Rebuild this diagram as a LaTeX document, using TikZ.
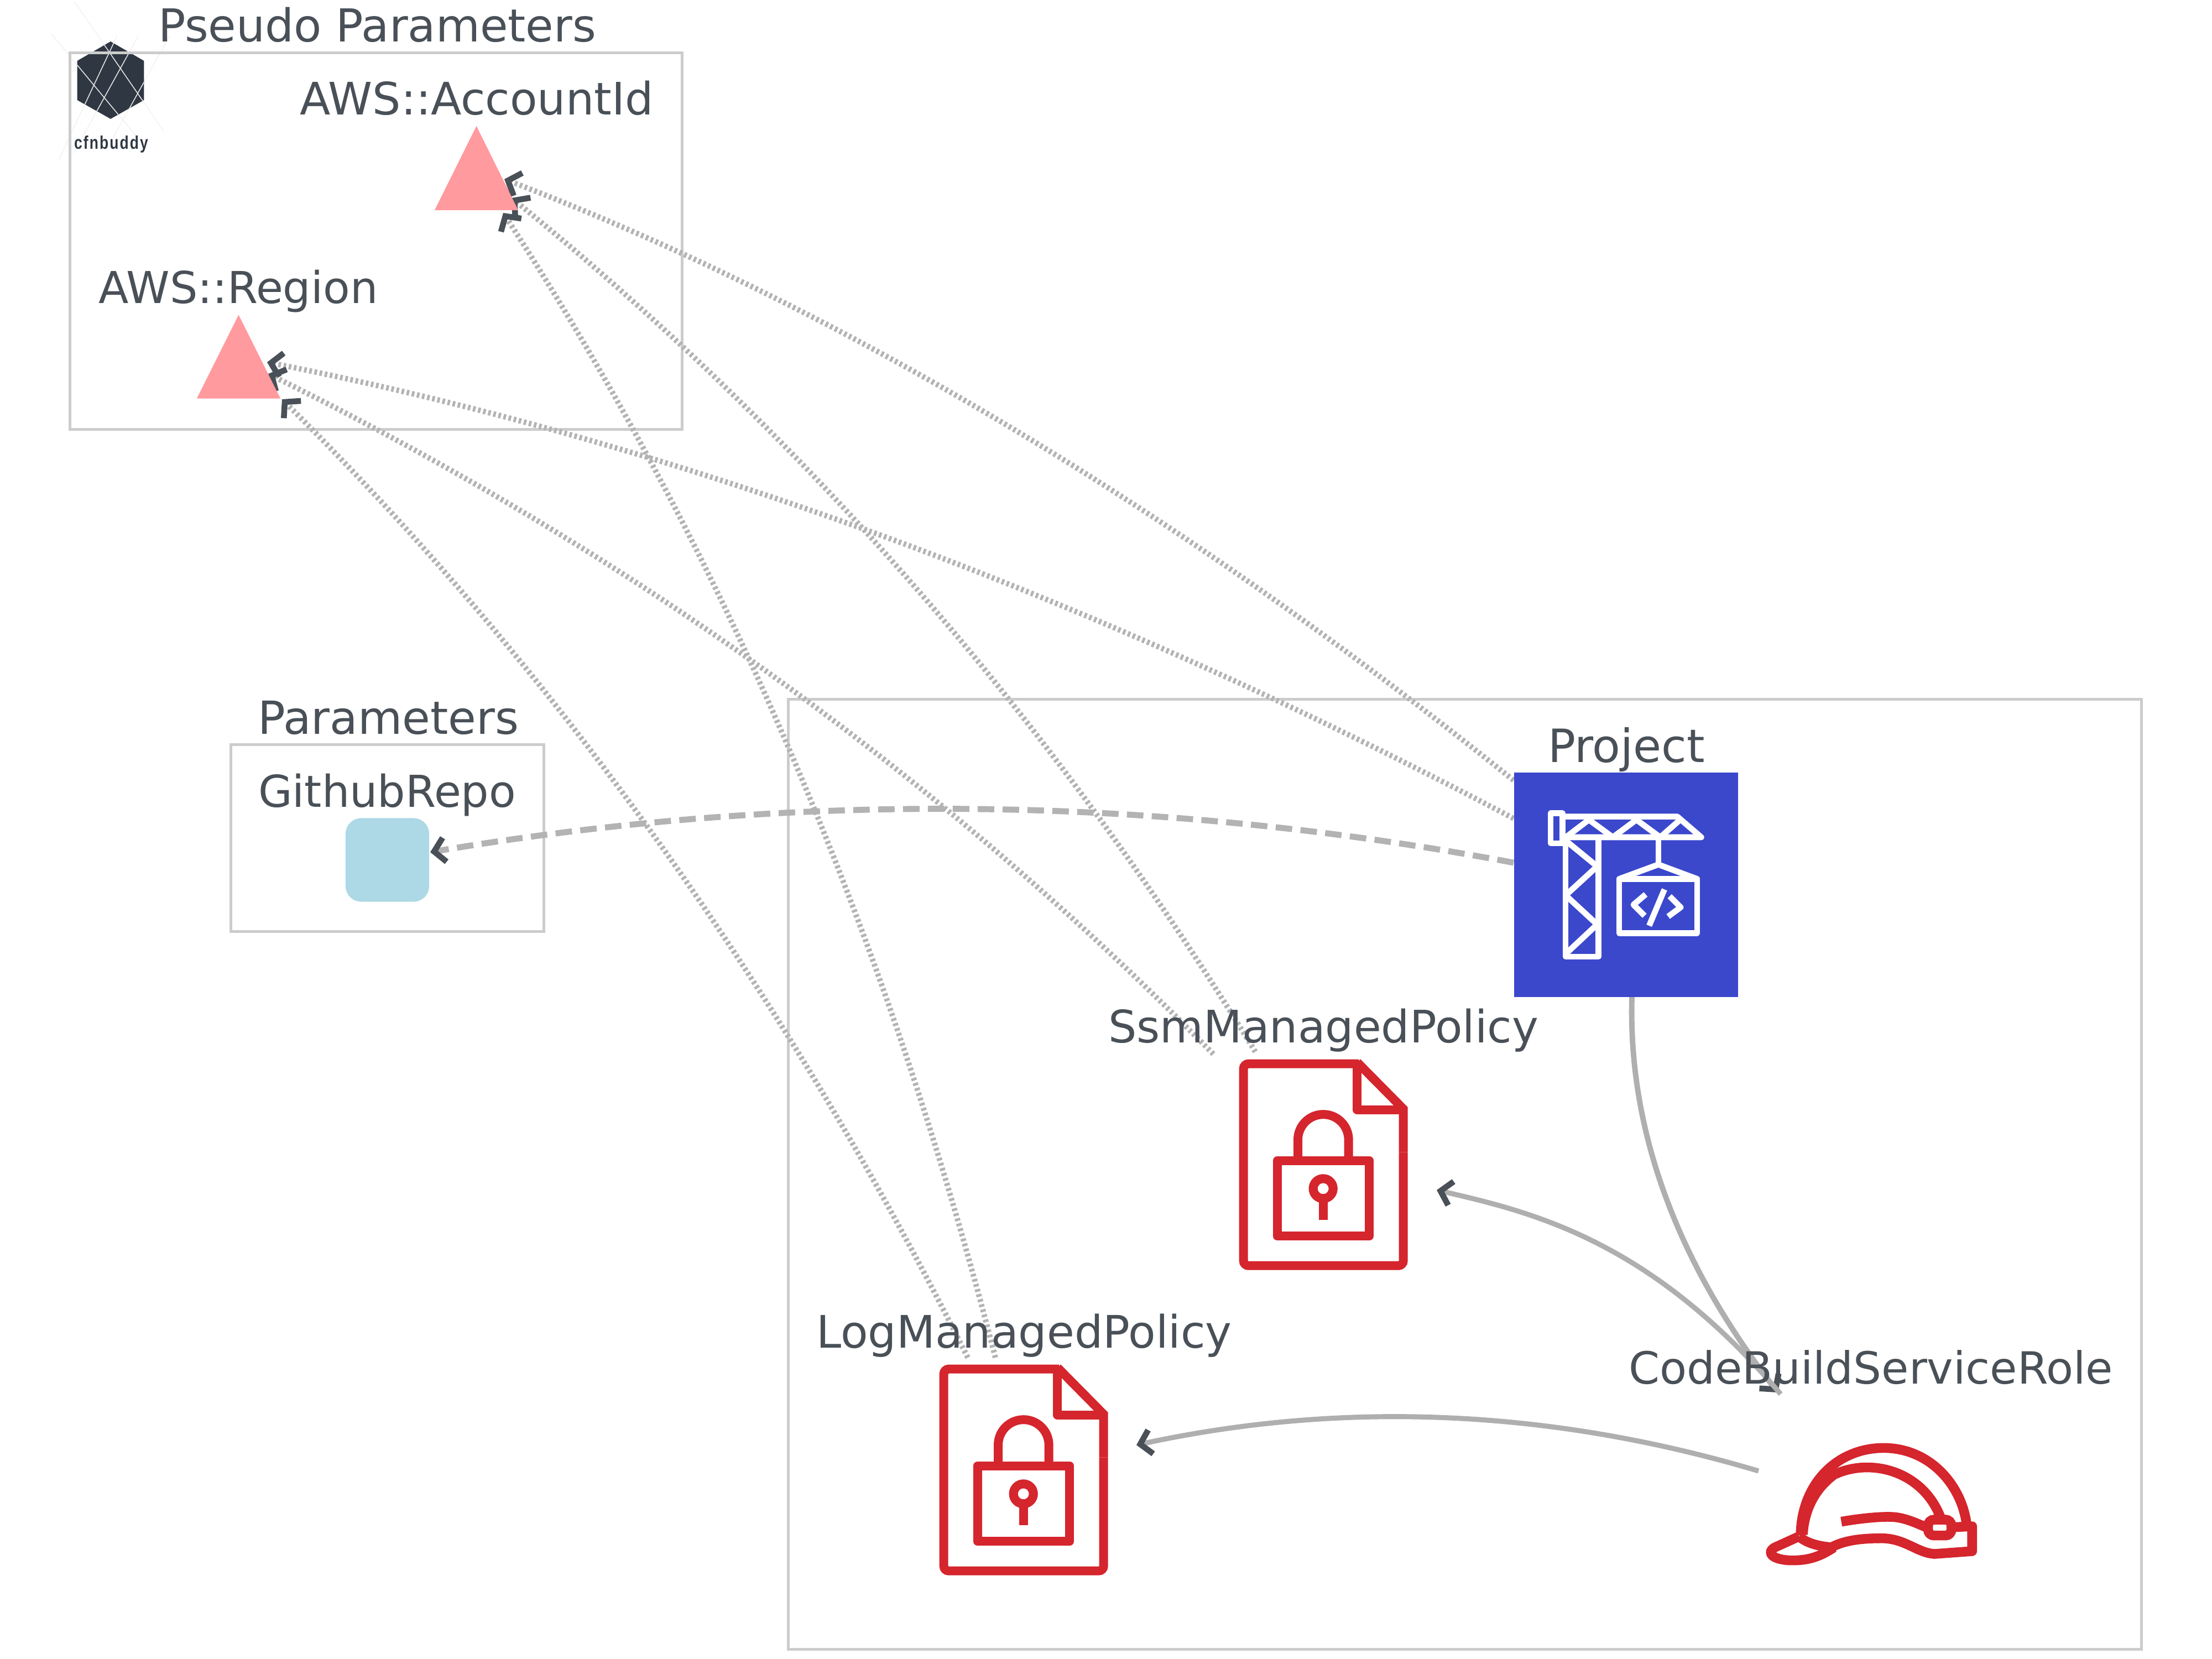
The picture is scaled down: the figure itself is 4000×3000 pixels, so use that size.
\documentclass[tikz,border=0pt]{standalone}
\usepackage{fontspec}
\usepackage{graphicx}
\setmainfont{DejaVu Sans}
\newfontfamily\logofont[LetterSpace=8]{Liberation Sans}
\usetikzlibrary{arrows.meta}
\definecolor{txt}{HTML}{495057}
\definecolor{frameg}{HTML}{CCCCCC}
\definecolor{edgeg}{HTML}{B3B3B3}
\definecolor{solidg}{HTML}{AFAFAF}
\definecolor{iconred}{HTML}{D5252D}
\definecolor{projblue}{HTML}{3B48CC}
\definecolor{tri}{HTML}{FF9A9E}
\definecolor{logod}{HTML}{2F3742}
\definecolor{paramblue}{HTML}{ADD8E6}
\pgfdeclarelayer{bg}
\pgfdeclarelayer{edgelayer}
\pgfsetlayers{bg,edgelayer,main}
\tikzset{
  x=0.01cm,y=-0.01cm,
  frame/.style={draw=frameg,line width=1.42pt,inner sep=0,fill=none},
  lbl/.style={text=txt,anchor=base,inner sep=0},
  hit/.style={inner sep=0,outer sep=0},
  tipv/.style={-{Straight Barb[length=5.5pt,width=12.5pt,line width=3pt,color=txt]}},
  dotedge/.style={draw=edgeg,line width=2.8pt,dash pattern=on 1.35pt off 1.35pt,tipv},
  dashedge/.style={draw=edgeg,line width=3.1pt,dash pattern=on 8.5pt off 4.3pt,tipv},
  solidedge/.style={draw=solidg,line width=2.6pt,tipv},
  redline/.style={draw=iconred,line width=4.55pt},
  docicon/.pic={
    \begin{scope}[scale=1/3,shift={(-578,-767)}]
      \draw[redline,rounded corners=2.5pt] (770,220) -- (145,220) -- (145,1315) -- (1012,1315) -- (1012,700);
      \draw[redline] (1012,700) -- (1012,465) -- (762,212);
      \draw[redline,line join=round] (762,220) -- (762,470) -- (1012,470);
      \draw[redline,line join=round] (328,745) rectangle (828,1155);
      \draw[redline] (440,745) -- (440,632) arc[start angle=180,end angle=360,radius=137.5] -- (715,745);
      \draw[draw=iconred,line width=4.6pt] (577,897) circle[radius=54];
      \draw[redline] (577,950) -- (577,1066);
    \end{scope}
  },
  whiteline/.style={draw=white,line width=3pt,line join=round,line cap=round},
  crane/.pic={
    \begin{scope}[scale=1/3,shift={(-722,-900)}]
      \draw[whiteline] (313,512) rectangle (377,675);
      \draw[whiteline] (377,530) -- (1000,530) -- (1130,642) -- (377,642);
      \draw[whiteline,line cap=butt] (395,642) -- (520,547) -- (650,642) -- (778,547) -- (907,642) -- (1015,547);
      \draw[whiteline] (572,642) -- (572,1290) -- (394,1290) -- (394,642);
      \draw[whiteline,line cap=butt] (394,660) -- (565,800) -- (394,957) -- (565,1115) -- (394,1275);
      \draw[whiteline,line cap=butt] (897,642) -- (897,790);
      \draw[whiteline] (685,868) -- (897,790) -- (1107,868);
      \draw[whiteline] (685,868) rectangle (1107,1162);
      \draw[whiteline,line join=round,line cap=butt] (828,952) -- (762,1008) -- (822,1068);
      \draw[whiteline,line join=round,line cap=butt] (958,962) -- (1018,1022) -- (950,1072);
      \draw[whiteline,line cap=butt] (930,925) -- (847,1122);
    \end{scope}
  },
  helmetline/.style={draw=iconred,line width=5pt},
  helmet/.pic={
    \begin{scope}[xscale=1/2.613,yscale=1/3,shift={(-742,-960)}]
      \draw[helmetline] (408,1130) .. controls (410,850) and (580,655) .. (800,655) .. controls (1020,655) and (1170,860) .. (1192,1070);
      \draw[helmetline] (418,1125) .. controls (425,990) and (475,880) .. (560,805);
      \draw[helmetline] (545,812) .. controls (720,700) and (980,770) .. (1068,1030);
      \draw[helmetline] (600,1055) .. controls (700,1035) and (800,1025) .. (850,1030) .. controls (900,1035) and (950,1060) .. (1000,1085);
      \draw[helmetline,rounded corners=3pt] (1010,1044) rectangle (1120,1130);
      \draw[helmetline,line join=round] (1130,1085) -- (1218,1080) -- (1218,1215) -- (1040,1230) .. controls (960,1225) and (900,1145) .. (790,1145) .. controls (700,1145) and (620,1155) .. (560,1190);
      \draw[helmetline] (400,1135) .. controls (440,1175) and (500,1190) .. (565,1195);
      \draw[helmetline,line join=round] (400,1135) -- (285,1195) .. controls (240,1225) and (280,1265) .. (370,1265) .. controls (460,1265) and (510,1235) .. (565,1195);
    \end{scope}
  }
}
\begin{document}
\begin{tikzpicture}
\useasboundingbox (0,0) rectangle (4000,3000);
% logo and group frames
\begin{pgfonlayer}{bg}
  \begin{scope}[shift={(90,0)},scale=1/3]
    \draw[draw=black!7,line width=0.3pt] (135,10) -- (618,712);
    \draw[draw=black!7,line width=0.3pt] (8,183) -- (470,740);
    \draw[draw=black!7,line width=0.3pt] (365,195) -- (48,868);
    \draw[draw=black!7,line width=0.3pt] (480,195) -- (130,830);
    \draw[draw=black!7,line width=0.3pt] (650,195) -- (345,745);
    \fill[logod] (330,225) -- (511,330) -- (511,543) -- (330,645) -- (149,543) -- (149,330) -- cycle;
    \begin{scope}
      \clip (330,225) -- (511,330) -- (511,543) -- (330,645) -- (149,543) -- (149,330) -- cycle;
      \draw[white!90!black,line width=0.45pt] (135,10) -- (618,712);
      \draw[white!90!black,line width=0.45pt] (8,183) -- (470,740);
      \draw[white!90!black,line width=0.45pt] (365,195) -- (48,868);
      \draw[white!90!black,line width=0.45pt] (480,195) -- (130,830);
      \draw[white!90!black,line width=0.45pt] (650,195) -- (345,745);
    \end{scope}
  \end{scope}
  \node[frame,minimum width=11.06cm,minimum height=6.8cm] (pseudo) at (680,436) {};
  \node[frame,minimum width=5.65cm,minimum height=3.37cm] (params) at (700.5,1515.5) {};
  \node[frame,minimum width=24.46cm,minimum height=17.17cm] (stack) at (2649,2123) {};
\end{pgfonlayer}
% nodes
\node[hit,minimum width=1.51cm,minimum height=1.52cm] (acct) at (861.5,304) {};
\fill[tri] (acct.north) -- (acct.south west) -- (acct.south east) -- cycle;
\node[hit,minimum width=1.51cm,minimum height=1.51cm] (region) at (431.5,645) {};
\fill[tri] (region.north) -- (region.south west) -- (region.south east) -- cycle;
\node[hit,minimum size=1.51cm,fill=paramblue,rounded corners=8pt] (github) at (700.5,1555) {};
\node[hit,minimum size=4.05cm,fill=projblue] (project) at (2940.5,1600) {};
\pic at (project.center) {crane};
\node[hit,minimum width=3.05cm,minimum height=3.81cm] (ssm) at (2393,2106) {};
\pic at (ssm.center) {docicon};
\node[hit,minimum width=3.05cm,minimum height=3.81cm] (log) at (1851,2658) {};
\pic at (log.center) {docicon};
\node[hit,minimum width=3.82cm,minimum height=2.2cm] (role) at (3384,2720) {};
\pic at (role.center) {helmet};
% labels
\node[lbl,font=\fontsize{23.35}{28}\selectfont] (lblpseudo) at (682,76) {Pseudo Parameters};
\node[lbl,font=\fontsize{23}{28}\selectfont] (lblacct) at (862,208) {AWS::AccountId};
\node[lbl,font=\fontsize{22.6}{28}\selectfont] (lblregion) at (431,548) {AWS::Region};
\node[lbl,font=\fontsize{23.45}{28}\selectfont] (lblparams) at (702,1327) {Parameters};
\node[lbl,font=\fontsize{22.6}{28}\selectfont] (lblgithub) at (700,1459) {GithubRepo};
\node[lbl,font=\fontsize{23.6}{28}\selectfont] (lblproject) at (2941,1378) {Project};
\node[lbl,font=\fontsize{23}{28}\selectfont] (lblssm) at (2393,1885) {SsmManagedPolicy};
\node[lbl,font=\fontsize{23.05}{28}\selectfont] (lbllog) at (1852,2437) {LogManagedPolicy};
\node[lbl,font=\fontsize{22.8}{28}\selectfont] (lblrole) at (3383,2502) {CodeBuildServiceRole};
\node[anchor=base,inner sep=0,text=logod] (logotext) at (201,269) {\scalebox{0.8}[1]{\logofont\bfseries\fontsize{9.4}{10}\selectfont cfnbuddy}};
% connectors
\begin{pgfonlayer}{edgelayer}
\draw[dotedge] ([shift={(-203.5,-189)}]project.center) .. controls (2116,913) and (1508,551) .. ([shift={(50.5,20)}]acct.center);
\draw[dotedge] ([shift={(-203.5,-120)}]project.center) .. controls (1972,1076) and (1221,801) .. ([shift={(51.5,10)}]region.center);
\draw[dashedge] ([shift={(-203.5,-40)}]project.center) .. controls (2083,1437) and (1430,1431) .. ([shift={(77.5,-14)}]github.center);
\draw[dotedge] ([shift={(-123,-204)}]ssm.center) .. controls (1905,1305) and (1457,790) .. ([shift={(63.5,54)}]acct.center);
\draw[dotedge] ([shift={(-199,-200)}]ssm.center) .. controls (1705,1407) and (1135,997) .. ([shift={(53.5,31)}]region.center);
\draw[dotedge] ([shift={(-51,-203)}]log.center) .. controls (1601,1682) and (1304,992) .. ([shift={(48.5,81)}]acct.center);
\draw[dotedge] ([shift={(-101,-203)}]log.center) .. controls (1417,1789) and (1003,1211) .. ([shift={(78.5,77)}]region.center);
\draw[solidedge,line width=2.8pt] ([shift={(10.5,203)}]project.center) .. controls (2944,2043) and (3032,2282) .. ([shift={(-169,-202)}]role.center);
\draw[solidedge] ([shift={(-164,-199)}]role.center) .. controls (2984,2242) and (2770,2192) .. ([shift={(205,46)}]ssm.center);
\draw[solidedge] ([shift={(-204,-60)}]role.center) .. controls (2804,2548) and (2429,2532) .. ([shift={(204,-45)}]log.center);
\end{pgfonlayer}
\end{tikzpicture}
\end{document}
